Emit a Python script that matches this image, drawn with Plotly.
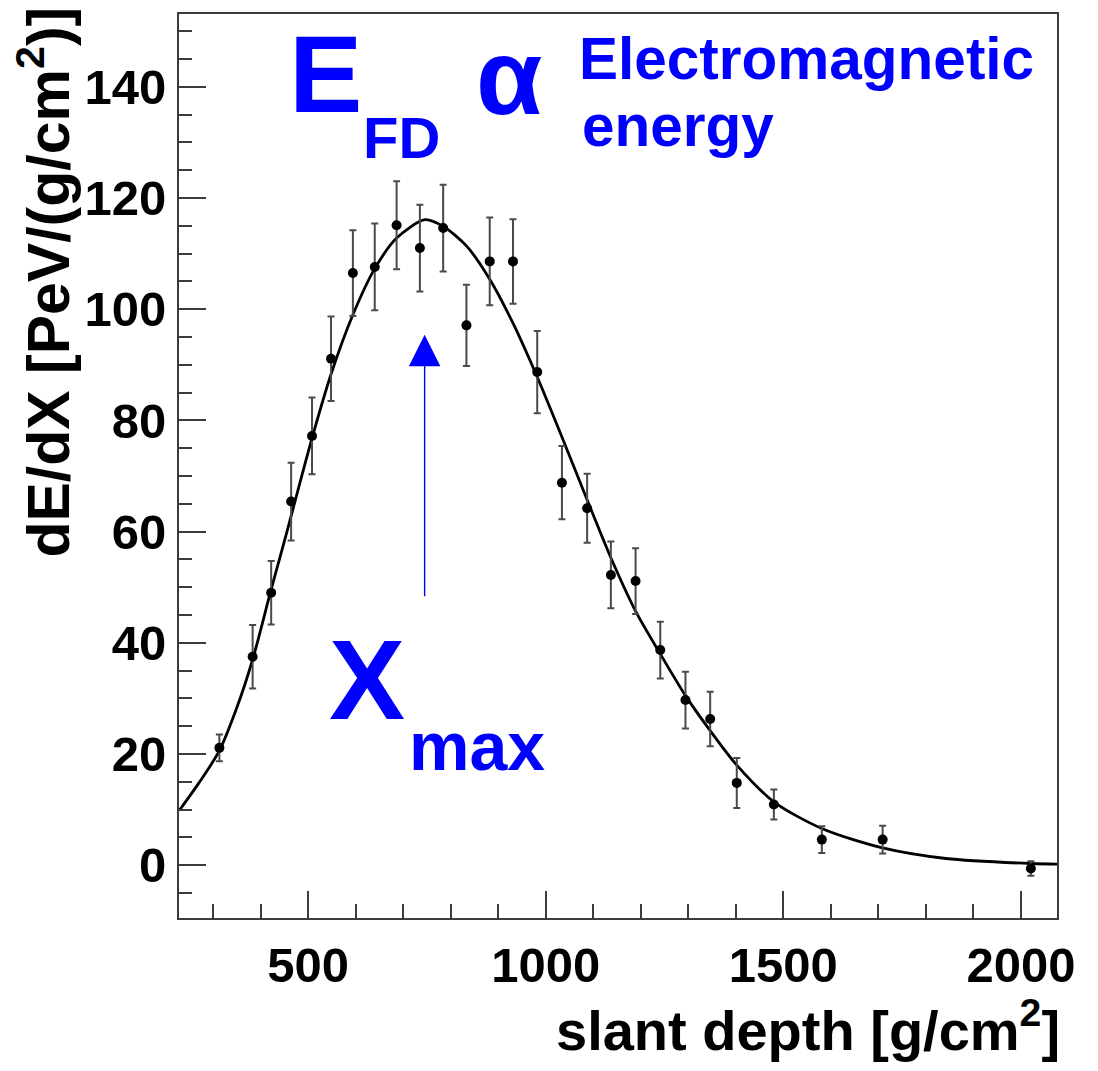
import plotly.graph_objects as go

# ---- data ----
depth = [313, 383, 422, 464, 508, 548, 594, 640, 686, 735, 784, 833, 882, 931,
         982, 1034, 1087, 1137, 1189, 1241, 1294, 1346, 1402, 1480, 1581, 1709, 2021]
dedx = [21.1, 37.5, 49.0, 65.4, 77.2, 91.1, 106.5, 107.6, 115.1, 111.0, 114.6, 97.1,
        108.6, 108.6, 88.7, 68.8, 64.2, 52.2, 51.1, 38.7, 29.7, 26.3, 14.8, 10.9,
        4.6, 4.6, -0.6]
dedx_err = [2.4, 5.7, 5.7, 7.0, 6.9, 7.6, 7.7, 7.8, 7.9, 7.8, 7.8, 7.3, 7.9, 7.6,
            7.4, 6.6, 6.2, 6.0, 5.9, 5.1, 5.1, 4.9, 4.5, 2.7, 2.4, 2.5, 1.3]

fit_depth = [229, 270, 313, 350, 383, 422, 454, 508, 548, 594, 640, 686, 746, 784,
             833, 882, 931, 982, 1034, 1088, 1137, 1189, 1241, 1294, 1346, 1402,
             1480, 1581, 1709, 1842, 2021, 2076]
fit_dedx = [9.9, 14.8, 20.6, 28.4, 37.0, 49.6, 59.6, 76.8, 88.3, 99.0, 107.3, 112.8,
            116.1, 114.9, 111.4, 105.4, 97.5, 87.8, 77.0, 65.5, 55.3, 45.7, 38.0,
            30.5, 24.2, 18.0, 11.4, 6.6, 3.1, 1.2, 0.3, 0.2]

x_range = [228, 2076]
y_range = [-9.5, 153.1]
x_ticks = [500, 1000, 1500, 2000]
y_ticks = [0, 20, 40, 60, 80, 100, 120, 140]

xmax_depth = 745
arrow_tip = 95.4
arrow_base = 48.1

# ---- layout geometry (pixels) ----
W, H = 1098, 1071
L, R, T, B = 179, 41, 12, 153
PW, PH = W - L - R, H - T - B

def px(xpix):
    return (xpix - L) / PW

def py(ypix):
    return (H - B - ypix) / PH

FONT = "Liberation Sans"
BLUE = "#0000ff"

fig = go.Figure()

fig.add_trace(go.Scatter(
    x=fit_depth, y=fit_dedx, mode="lines",
    line=dict(color="black", width=2.8, shape="spline", smoothing=0.8),
    hoverinfo="skip", showlegend=False))

fig.add_trace(go.Scatter(
    x=depth, y=dedx, mode="markers",
    marker=dict(color="black", size=10),
    error_y=dict(type="data", array=dedx_err, visible=True,
                 color="#4a4a4a", thickness=2, width=3.5),
    showlegend=False))

axis_common = dict(
    showgrid=False, zeroline=False, showline=True, linecolor="#3c3c3c",
    linewidth=2, mirror=True, ticks="inside", ticklen=27, tickwidth=1.5,
    tickcolor="#3c3c3c",
    tickfont=dict(family=FONT, size=49, color="black", weight="bold"),
)

fig.update_xaxes(range=x_range, tickvals=x_ticks, ticktext=[str(v) for v in x_ticks],
                 minor=dict(dtick=100, tick0=0, ticks="inside", ticklen=14,
                            tickwidth=1.5, tickcolor="#3c3c3c"),
                 ticklabelstandoff=3, **axis_common)
fig.update_yaxes(range=y_range, tickvals=y_ticks, ticktext=[str(v) for v in y_ticks],
                 minor=dict(dtick=5, tick0=0, ticks="inside", ticklen=13,
                            tickwidth=1.5, tickcolor="#3c3c3c"),
                 ticklabelstandoff=1, **axis_common)

annotations = []

# axis titles
annotations.append(dict(
    text="slant depth [g/cm<sup>2</sup>]", xref="paper", yref="paper",
    x=px(1062), y=py(1027), xanchor="right", yanchor="middle", showarrow=False,
    font=dict(family=FONT, size=56, color="black", weight="bold")))
annotations.append(dict(
    text="dE/dX [PeV/(g/cm<sup>2</sup>)]", xref="paper", yref="paper",
    x=px(45), y=py(3), xanchor="center", yanchor="top", textangle=-90,
    showarrow=False,
    font=dict(family=FONT, size=59, color="black", weight="bold")))

# blue labels
def blue(text, xl, yc, size):
    annotations.append(dict(
        text=text, xref="paper", yref="paper", x=px(xl), y=py(yc),
        xanchor="left", yanchor="middle", showarrow=False,
        font=dict(family=FONT, size=size, color=BLUE, weight="bold")))

blue("E", 287, 72, 110)
blue("FD", 361, 136, 58)
blue("α", 474, 75, 108)
blue("Electromagnetic", 577, 57, 58.5)
blue("energy", 580, 124, 58.5)
blue("X", 327, 679, 114)
blue("max", 407, 746, 68)

# Xmax arrow
annotations.append(dict(
    x=xmax_depth, y=arrow_tip, ax=xmax_depth, ay=arrow_base,
    xref="x", yref="y", axref="x", ayref="y", text="", showarrow=True,
    arrowhead=2, arrowsize=4.5, arrowwidth=1.4, arrowcolor=BLUE))

fig.update_layout(
    width=W, height=H,
    margin=dict(l=L, r=R, t=T, b=B, pad=0),
    paper_bgcolor="white", plot_bgcolor="white",
    showlegend=False, annotations=annotations)

fig.write_html("out.html")
